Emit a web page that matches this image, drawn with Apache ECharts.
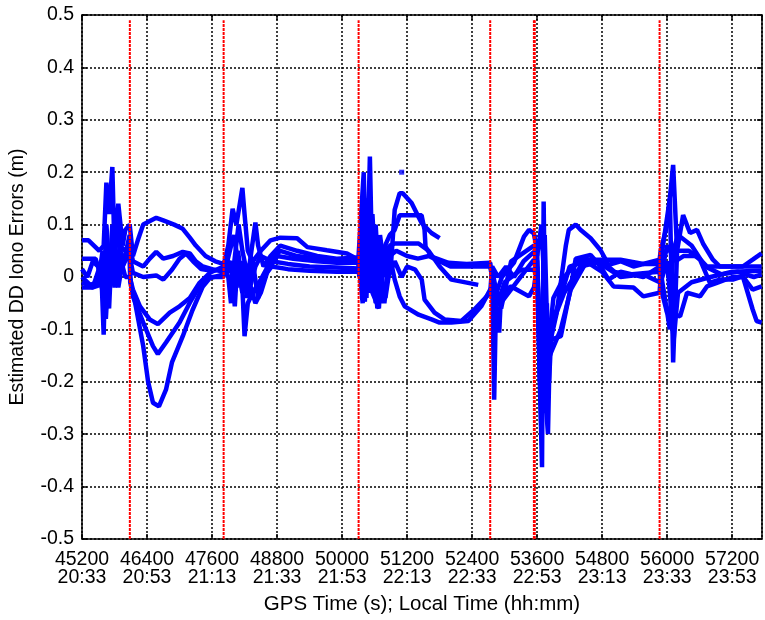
<!DOCTYPE html>
<html>
<head>
<meta charset="utf-8">
<script src="https://cdn.jsdelivr.net/npm/echarts/dist/echarts.min.js"></script>
<style>
  html, body { margin: 0; padding: 0; background: #fff; }
  #chart { width: 765px; height: 620px; }
</style>
</head>
<body>
<div id="chart"></div>
<script>
// GPS time ticks (s) and the matching local clock time
const gpsTicks = [45200, 46400, 47600, 48800, 50000, 51200, 52400, 53600, 54800, 56000, 57200];
const localTimes = ['20:33', '20:53', '21:13', '21:33', '21:53', '22:13', '22:33', '22:53', '23:13', '23:33', '23:53'];

// Times at which the reference satellite changes (dashed red markers)
const refChangeTimes = [46083, 47814, 50305, 52734, 53540, 53556, 55860];

// Estimated double-difference ionospheric errors (m) for each satellite pair, [GPS time, error]
const pair1 = [
  [45200,0.07],[45320,0.07],[45420,0.06],[45520,0.05],[45600,0.06],[45650,0.18],[45700,0.12],[45760,0.21],[45800,0.05],[45870,0.14],[45950,0.06],[46000,0.09],[46080,0.1],
  [46140,0.04],[46230,0.07],[46330,0.1],[46570,0.113],[46700,0.108],[46900,0.1],[47060,0.092],[47190,0.075],[47300,0.06],[47480,0.04],[47660,0.03],[47810,0.025],
  [47830,0.03],[47900,0.06],[47980,0.13],[48050,0.1],[48160,0.17],[48200,0.12],[48260,0.05],[48350,0.03],[48500,0.05],[48680,0.07],[48860,0.075],[49170,0.074],[49360,0.057],[49720,0.051],[50090,0.045],[50300,0.033],
  [50320,0.03],[50400,0.2],[50450,-0.04],[50513,0.23],[50560,0.0],[50620,0.1],[50700,-0.05],[50800,0.06],[50900,0.02],[50971,0.128],[51063,0.16],[51120,0.16],[51283,0.141],[51467,0.103],[51650,0.084],[51800,0.074],[51810,'-'],
  [52770,0.014],[52850,-0.03],[52950,0.0],[53170,0.027],[53357,0.077],[53450,0.09],[53540,0.083],
  [53600,0.05],[53650,-0.2],[53700,-0.1],[53760,-0.26],[53800,-0.13],[53850,-0.12],[53960,-0.069],[54130,0.06],[54184,0.09],[54312,0.1],[54400,0.09],[54587,0.074],[54771,0.051],[54918,0.023],[55138,0.03],[55377,0.02],[55860,0.033],
  [55880,0.05],[56000,0.1],[56110,0.214],[56183,0.05],[56294,0.118],[56422,0.084],[56551,0.09],[56661,0.064],[56844,0.033],[56973,0.02],[57395,0.02],[57578,0.033],[57743,0.045]
];
const pair2 = [
  [45200,0.035],[45450,0.035],[45560,0.0],[45600,-0.11],[45640,0.06],[45700,-0.02],[45760,0.1],[45830,0.0],[45900,0.06],[46000,0.05],[46080,0.06],
  [46140,0.03],[46330,0.02],[46450,0.035],[46570,0.048],[46700,0.035],[46880,0.04],[47060,0.048],[47190,0.045],[47300,0.03],[47430,0.02],[47600,0.015],[47810,0.01],
  [47830,0.02],[47900,0.0],[47950,-0.05],[48000,0.02],[48090,0.1],[48160,0.05],[48260,0.0],[48400,0.104],[48450,0.06],[48550,0.02],[48680,0.04],[48860,0.06],[49170,0.05],[49540,0.04],[49900,0.035],[50300,0.037],
  [50320,0.04],[50380,-0.05],[50450,0.15],[50500,0.0],[50560,0.12],[50650,-0.06],[50750,0.05],[50880,0.08],[50971,0.09],[51063,0.118],[51467,0.118],[51522,0.09],[51540,0.058],[51650,0.039],[51963,0.027],[52300,0.025],[52734,0.027],
  [52770,0.0],[52807,-0.234],[52840,-0.05],[52935,-0.049],[53302,0.001],[53541,0.033],
  [53600,0.0],[53690,-0.363],[53720,0.144],[53760,-0.2],[53850,-0.12],[54037,-0.113],[54220,-0.02],[54312,0.035],[54587,0.042],[54771,0.02],[54918,-0.005],[55138,0.01],[55560,0.0],[55860,0.02],
  [55880,0.03],[56050,0.15],[56110,-0.163],[56183,0.05],[56400,0.05],[56606,0.033],[56789,-0.011],[56973,-0.005],[57211,-0.005],[57395,0.001],[57578,-0.024],[57743,-0.018]
];
const pair3 = [
  [45200,0.015],[45300,0.0],[45400,0.03],[45500,0.02],[45600,-0.04],[45650,0.1],[45700,0.02],[45800,0.08],[45870,-0.02],[45950,0.03],[46080,0.04],
  [46140,0.008],[46330,0.0],[46570,0.003],[46700,-0.005],[46860,0.014],[47000,0.035],[47120,0.045],[47250,0.03],[47400,0.015],[47600,0.012],[47810,0.015],
  [47830,0.01],[47950,0.03],[48020,-0.056],[48080,0.05],[48160,-0.02],[48200,-0.113],[48260,-0.05],[48350,-0.03],[48500,-0.005],[48680,0.03],[48860,0.05],[49170,0.04],[49540,0.035],[49900,0.03],[50300,0.03],
  [50320,0.02],[50400,0.15],[50450,-0.01],[50540,0.1],[50620,-0.04],[50700,0.08],[50800,0.0],[50880,0.06],[50971,0.064],[51412,0.064],[51596,0.05],[51800,0.02],[52018,-0.005],[52513,-0.015],[52520,'-'],
  [52770,-0.005],[52900,-0.106],[52935,-0.03],[53120,-0.018],[53449,-0.037],[53541,-0.02],
  [53600,0.02],[53680,-0.3],[53740,0.08],[53800,-0.16],[53853,-0.145],[54037,-0.1],[54220,-0.024],[54532,0.033],[54826,0.033],[55138,0.033],[55560,0.025],[55860,0.025],
  [55880,-0.02],[56000,-0.069],[56238,-0.075],[56367,-0.03],[56606,-0.037],[56734,-0.018],[56918,-0.011],[57211,0.0],[57400,0.0],[57578,-0.062],[57651,-0.084],[57743,-0.087]
];
const pair4 = [
  [45200,0.0],[45350,-0.015],[45500,-0.01],[45580,0.05],[45650,-0.05],[45720,0.06],[45800,-0.02],[45900,0.04],[46000,0.0],[46080,0.0],
  [46090,0.0],[46140,-0.024],[46270,-0.056],[46450,-0.081],[46600,-0.09],[46820,-0.068],[47000,-0.056],[47190,-0.04],[47370,-0.011],[47560,0.008],[47810,0.02],
  [47830,0.02],[47950,0.01],[48050,0.03],[48160,-0.03],[48260,0.0],[48400,-0.05],[48500,-0.03],[48620,0.01],[48800,0.04],[49100,0.035],[49540,0.03],[49900,0.027],[50300,0.027],
  [50320,0.03],[50420,-0.047],[50480,0.1],[50560,-0.03],[50680,-0.06],[50740,0.06],[50850,0.0],[50971,0.03],[51100,0.0],[51200,0.02],[51350,0.014],[51470,-0.005],[51522,-0.043],[51706,-0.068],[51890,-0.081],[52202,-0.084],[52440,-0.062],[52734,-0.03],
  [52770,0.02],[52880,0.0],[53027,0.02],[53174,0.0],[53350,0.03],[53541,0.048],
  [53600,0.03],[53700,-0.25],[53780,-0.05],[53820,-0.2],[53870,-0.09],[54000,-0.05],[54200,0.02],[54500,0.03],[54800,0.01],[55010,-0.018],[55377,-0.02],[55560,-0.037],[55860,-0.03],
  [55880,0.0],[56000,0.06],[56150,0.03],[56300,0.04],[56550,0.04],[56734,0.02],[57000,0.02],[57743,0.02]
];
const pair5 = [
  [45200,-0.01],[45400,-0.02],[45540,-0.015],[45620,0.04],[45700,-0.06],[45760,0.08],[45840,-0.01],[45950,0.02],[46080,0.05],
  [46090,0.0],[46140,-0.037],[46330,-0.087],[46510,-0.132],[46600,-0.147],[46750,-0.125],[47000,-0.087],[47190,-0.049],[47370,-0.018],[47560,0.0],[47810,0.0],
  [47830,0.0],[48000,0.08],[48100,0.02],[48200,0.02],[48300,-0.02],[48400,0.02],[48500,0.04],[48700,0.03],[49000,0.025],[49400,0.02],[49900,0.018],[50300,0.016],
  [50320,0.0],[50400,0.09],[50480,-0.02],[50560,0.05],[50620,-0.05],[50700,0.02],[50800,-0.04],[50900,0.03],[50971,-0.005],[51063,-0.037],[51155,-0.056],[51412,-0.072],[51651,-0.081],[51800,-0.087],[52018,-0.087],[52330,-0.084],[52568,-0.056],[52734,-0.024],
  [52770,-0.02],[52900,-0.043],[53000,-0.01],[53300,0.014],[53541,0.014],
  [53600,0.0],[53720,-0.18],[53800,-0.3],[53840,-0.1],[53950,-0.07],[54100,-0.03],[54400,0.02],[54800,0.03],[55138,0.0],[55560,0.005],[55860,-0.01],
  [55880,0.01],[56050,-0.1],[56110,0.05],[56200,0.08],[56450,0.06],[56700,0.02],[57000,0.005],[57300,0.01],[57600,0.0],[57743,0.005]
];
const pair6 = [
  [45200,-0.02],[45400,-0.02],[45560,0.03],[45640,-0.08],[45700,0.03],[45780,0.0],[45850,0.1],[45950,0.02],[46080,0.08],
  [46090,-0.01],[46180,-0.049],[46330,-0.132],[46420,-0.2],[46510,-0.24],[46620,-0.247],[46750,-0.215],[46860,-0.163],[47060,-0.113],[47240,-0.063],[47430,-0.018],[47560,-0.002],[47810,0.005],
  [47830,0.005],[47950,0.02],[48050,-0.02],[48150,0.03],[48250,-0.04],[48350,0.03],[48450,-0.04],[48550,0.0],[48700,0.02],[49000,0.015],[49400,0.012],[49900,0.01],[50300,0.01],
  [50320,0.01],[50380,0.12],[50440,0.03],[50500,-0.03],[50600,0.07],[50700,0.01],[50780,-0.05],[50880,0.04],[51000,0.05],[51200,0.04],[51400,0.035],[51600,0.04],[51800,0.03],[52000,0.02],[52400,0.02],[52734,0.02],
  [52770,0.0],[52935,-0.06],[53120,0.03],[53400,0.05],[53541,0.06],
  [53600,0.04],[53680,0.1],[53750,-0.05],[53790,-0.15],[53900,-0.04],[54100,0.0],[54400,0.035],[54700,0.03],[55000,0.01],[55300,0.005],[55860,0.01],
  [55880,-0.01],[56000,0.03],[56120,-0.12],[56200,-0.03],[56450,-0.01],[56800,0.0],[57200,0.01],[57743,0.012]
];
// An isolated estimate
const strayPoints = [[51100, 0.2]];

const pairs = [pair1, pair2, pair3, pair4, pair5, pair6];

const FONT = 'Liberation Sans, Arial, sans-serif';
const X_MIN = 45200, X_MAX = 57750;
const Y_MIN = -0.5, Y_MAX = 0.5;

const blueLines = pairs.map(d => ({
  type: 'line', data: d, showSymbol: false, connectNulls: false,
  lineStyle: { color: '#0000ff', width: 4.5 }, itemStyle: { color: '#0000ff' },
  z: 3, silent: true
}));

const stray = {
  type: 'scatter', data: strayPoints, symbol: 'rect', symbolSize: 5,
  itemStyle: { color: '#0000ff' }, z: 3, silent: true
};

const redMarkers = refChangeTimes.map(t => ({
  type: 'line', data: [[t, Y_MIN], [t, 0.49]], showSymbol: false,
  lineStyle: { color: '#ff0000', width: 2, type: [3, 1] }, z: 5, silent: true
}));

const gridLine = { show: true, lineStyle: { color: '#000', width: 1.5, type: [2, 2] } };
const frameAxis = { show: true, onZero: false, lineStyle: { color: '#000', width: 1.5 } };
const innerTick = { show: true, inside: true, length: 5, lineStyle: { color: '#000', width: 1.5 } };

const option = {
  animation: false,
  backgroundColor: '#fff',
  grid: { left: 79, right: 3, top: 15, bottom: 80 },
  xAxis: [{
    type: 'value', min: X_MIN, max: X_MAX, interval: 1200, position: 'bottom',
    axisLine: frameAxis, axisTick: innerTick, splitLine: gridLine,
    axisLabel: {
      showMaxLabel: false, color: '#000', fontFamily: FONT, fontSize: 19.5, lineHeight: 17.5, margin: 12,
      formatter: v => { const i = gpsTicks.indexOf(Math.round(v)); return i < 0 ? '' : gpsTicks[i] + '\n' + localTimes[i]; }
    },
    name: 'GPS Time (s); Local Time (hh:mm)', nameLocation: 'middle', nameGap: 55,
    nameTextStyle: { color: '#000', fontFamily: FONT, fontSize: 20.5 }
  }, {
    type: 'value', min: X_MIN, max: X_MAX, interval: 1200, position: 'top',
    axisLine: frameAxis, axisTick: innerTick,
    axisLabel: { show: false }, splitLine: { show: false }
  }],
  yAxis: [{
    type: 'value', min: Y_MIN, max: Y_MAX, interval: 0.1, position: 'left',
    axisLine: frameAxis, axisTick: innerTick, splitLine: gridLine,
    axisLabel: {
      color: '#000', fontFamily: FONT, fontSize: 19.5, margin: 8,
      formatter: v => Math.abs(v) < 1e-9 ? '0' : v.toFixed(1)
    },
    name: 'Estimated DD Iono Errors (m)', nameLocation: 'middle', nameGap: 54,
    nameTextStyle: { color: '#000', fontFamily: FONT, fontSize: 19.5 }
  }, {
    type: 'value', min: Y_MIN, max: Y_MAX, interval: 0.1, position: 'right',
    axisLine: frameAxis, axisTick: innerTick,
    axisLabel: { show: false }, splitLine: { show: false }
  }],
  series: [...blueLines, stray, ...redMarkers]
};

const chart = echarts.init(document.getElementById('chart'), null, { renderer: 'canvas' });
chart.setOption(option);
</script>
</body>
</html>
